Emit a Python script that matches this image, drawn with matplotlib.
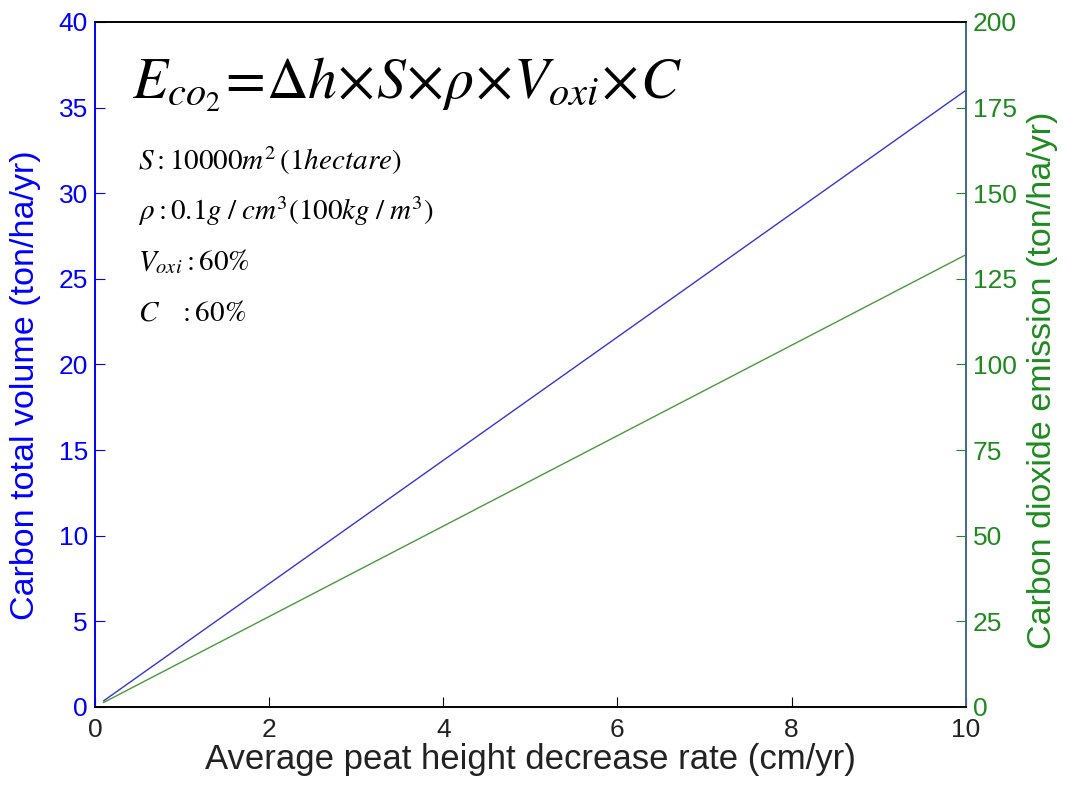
import matplotlib.pyplot as plt

plt.rcParams["font.family"] = ["Liberation Sans", "DejaVu Sans"]
plt.rcParams["mathtext.fontset"] = "stix"

# peat height decrease rate (cm/yr)
rate = [0.1, 10]
# carbon lost per hectare (ton/ha/yr)
carbon = [0.36, 36]
# CO2 emitted per hectare (ton/ha/yr)
co2 = [1.32, 132]

x_ticks = [0, 2, 4, 6, 8, 10]
left_ticks = [0, 5, 10, 15, 20, 25, 30, 35, 40]
right_ticks = [0, 25, 50, 75, 100, 125, 150, 175, 200]

fig = plt.figure(figsize=(10.67, 7.85), dpi=100)
ax1 = fig.add_axes([0.089, 0.0994, 0.816, 0.8726])
ax2 = ax1.twinx()

ax1.plot(rate, carbon, color="#3535d0", lw=1.0)
ax2.plot(rate, co2, color="#4a9a3a", lw=1.0)

ax1.set_xlim(0, 10)
ax1.set_ylim(0, 40)
ax2.set_ylim(0, 200)
ax1.set_xticks(x_ticks)
ax1.set_yticks(left_ticks)
ax2.set_yticks(right_ticks)

ax1.tick_params(axis="x", direction="in", length=7, labelsize=19, pad=8,
                labelcolor="#222222")
ax1.tick_params(axis="y", direction="in", length=7, labelsize=19,
                colors="#0000ff", pad=5)
ax2.tick_params(axis="y", direction="in", length=7, labelsize=19,
                colors="#1e8a1e", pad=5)

ax1.spines["left"].set_color("#0000ff")
ax2.spines["left"].set_color("#0000ff")
ax2.spines["right"].set_color("#3d6a8a")
ax1.spines["right"].set_color("#3d6a8a")
for ax in (ax1, ax2):
    for s in ax.spines.values():
        s.set_linewidth(1.2)

ax1.set_xlabel("Average peat height decrease rate (cm/yr)", fontsize=25,
               color="#222222", labelpad=1)
ax1.set_ylabel("Carbon total volume (ton/ha/yr)", fontsize=24.5,
               color="#0000ff")
ax2.set_ylabel("Carbon dioxide emission (ton/ha/yr)", fontsize=24.5,
               color="#1e8a1e")
ax1.yaxis.set_label_coords(-0.062, 0.47)
ax2.yaxis.set_label_coords(1.071, 0.477)

# formula and parameter notes
ax1.text(0.43, 34.6,
         r"$E_{co_2}\!=\!\Delta h\!\times\! S\!\times\!\rho\!\times\! V_{oxi}\!\times\! C$",
         fontsize=41.5, va="bottom", ha="left")
notes = [
    r"$S:10000m^2\,(1hectare)$",
    r"$\rho:0.1g\;/\;cm^3(100kg\;/\;m^3)$",
    r"$V_{oxi}:60\%$",
    r"$C\ \ \ :60\%$",
]
for i, t in enumerate(notes):
    ax1.text(0.5, 31.9 - i * 2.95, t, fontsize=21, va="center", ha="left")

fig.savefig("out.png", dpi=100)
